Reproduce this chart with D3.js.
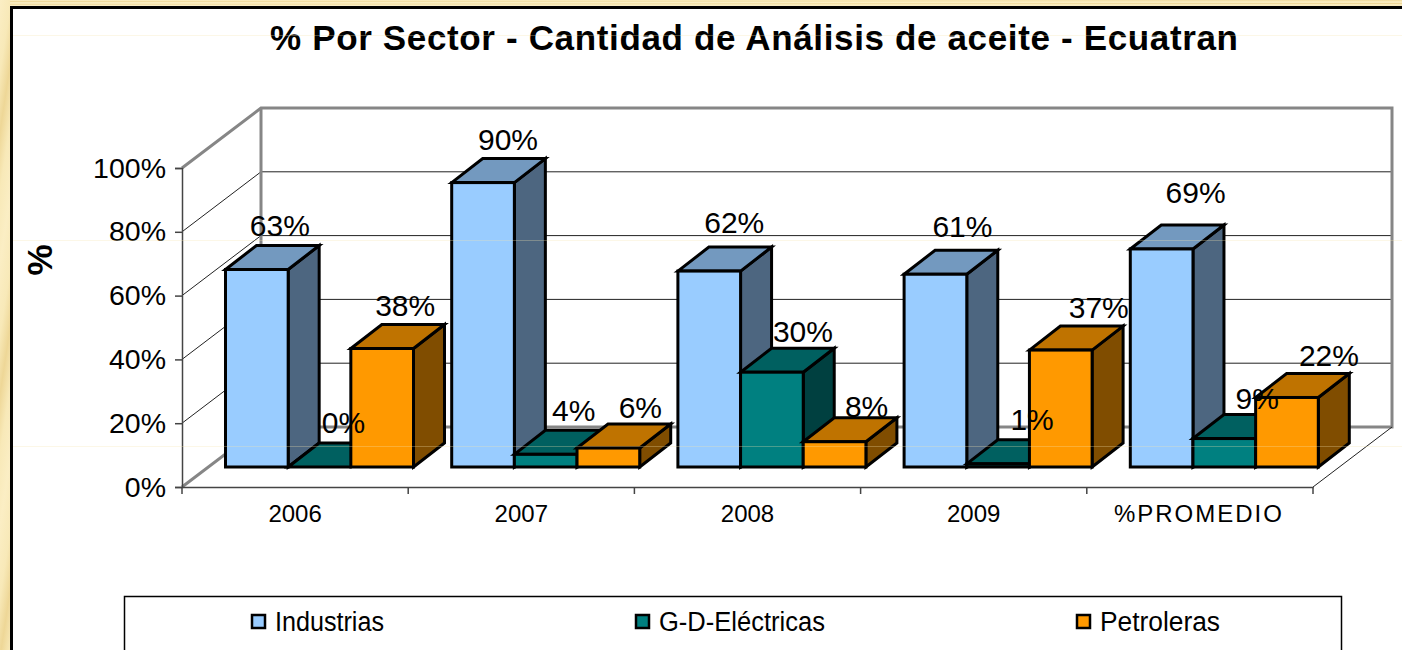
<!DOCTYPE html>
<html>
<head>
<meta charset="utf-8">
<script src="https://cdn.jsdelivr.net/npm/d3@7"></script>
<style>
    html, body { margin: 0; padding: 0; background: #fff; overflow: hidden; }
    text { font-family: 'Liberation Sans', Arial, sans-serif; fill: #000; }
</style>
</head>
<body>
<div class="chart"></div>
<script>
(function () {
    'use strict';

    const categories = ['2006', '2007', '2008', '2009', '%PROMEDIO'];
    const seriesNames = ['Industrias', 'G-D-Eléctricas', 'Petroleras'];
    const industrias = [62.5, 90, 62, 61, 69];
    const electricas = [0, 4, 30, 1, 9];
    const petroleras = [37.5, 6, 8, 37, 22];
    const yTicks = [0, 20, 40, 60, 80, 100];

    const seriesValues = [industrias, electricas, petroleras];
    const faceColors = [
        { front: '#99ccff', top: '#7399bf', side: '#4d6680' },
        { front: '#008080', top: '#006060', side: '#004040' },
        { front: '#ff9900', top: '#bf7300', side: '#804d00' }
    ];

    // where the original placed each data label relative to its bar, per series
    const labelDx = [[23, 25, 25, 27, 34], [24, 28, 31, 34, 33], [23, 32, 32, 38, 42]];
    const labelDy = [[-1, 0, -5, -4, -13], [-1, 0, 3, -1, 3], [0, 3, 8, 1, 2]];

    const width = 1402, height = 650;
    const floor = { left: 182, right: 1313, y: 487, top: 168 };
    const wall = { dx: 79, dy: -60 };
    const barDepth = { near: 26.5, rise: 20, dx: 31, dy: -24 };

    const x0 = d3.scaleBand().domain(categories).range([floor.left, floor.right]);
    const x1 = d3.scaleBand().domain(d3.range(seriesNames.length)).range([17, 205]);
    const y = d3.scaleLinear().domain([0, 100]).range([floor.y, floor.top]);
    const barHeight = d3.scaleLinear().domain([0, 100]).range([0, 316]);

    const svg = d3.select('.chart').append('svg')
        .attr('width', width).attr('height', height)
        .style('display', 'block');

    // slide background and frame
    const defs = svg.append('defs');
    const grad = defs.append('linearGradient').attr('id', 'paper')
        .attr('x1', 0).attr('x2', 0.02).attr('y1', 0).attr('y2', 0.2)
        .attr('spreadMethod', 'reflect');
    grad.append('stop').attr('offset', '0%').attr('stop-color', '#fbeec4');
    grad.append('stop').attr('offset', '55%').attr('stop-color', '#f8e9b8');
    grad.append('stop').attr('offset', '100%').attr('stop-color', '#eed797');
    svg.append('rect').attr('width', width).attr('height', 7).attr('fill', 'url(#paper)');
    svg.append('rect').attr('width', 10).attr('height', height).attr('fill', 'url(#paper)');
    svg.append('path').attr('d', 'M11.5,' + height + 'V7.5H' + width)
        .attr('fill', 'none').attr('stroke', '#000').attr('stroke-width', 3);

    svg.append('text').attr('x', 754).attr('y', 50)
        .attr('text-anchor', 'middle')
        .attr('font-size', 35).attr('font-weight', 'bold')
        .attr('textLength', 968).attr('lengthAdjust', 'spacing')
        .text('% Por Sector - Cantidad de Análisis de aceite - Ecuatran');

    svg.append('text')
        .attr('transform', 'translate(52, 260) rotate(-90)')
        .attr('text-anchor', 'middle')
        .attr('font-size', 35).attr('font-weight', 'bold')
        .text('%');

    // walls
    const grey = '#868686';
    const backX0 = floor.left + wall.dx, backX1 = floor.right + wall.dx;

    const grid = svg.append('g').attr('fill', 'none');
    grid.selectAll('.grid').data(yTicks.slice(1, -1)).enter().append('path')
        .attr('class', 'grid')
        .attr('d', function (d) {
            const yy = y(d);
            return 'M' + floor.left + ',' + yy + 'L' + backX0 + ',' + (yy + wall.dy) + 'H' + backX1;
        })
        .attr('stroke', '#222').attr('stroke-width', 1);

    grid.append('path')
        .attr('d', 'M' + floor.left + ',' + floor.top + 'L' + backX0 + ',' + (floor.top + wall.dy) +
            'H' + backX1 + 'V' + (floor.y + wall.dy) + 'H' + backX0 + 'L' + floor.left + ',' + floor.y)
        .attr('stroke', grey).attr('stroke-width', 3);
    grid.append('path')
        .attr('d', 'M' + backX0 + ',' + (floor.top + wall.dy) + 'V' + (floor.y + wall.dy))
        .attr('stroke', grey).attr('stroke-width', 3);
    grid.append('path')
        .attr('d', 'M' + backX1 + ',' + (floor.y + wall.dy) + 'L' + floor.right + ',' + floor.y)
        .attr('stroke', '#222').attr('stroke-width', 1);

    // bars, left to right so the nearer faces overlap
    const bars = svg.append('g').attr('stroke', '#000').attr('stroke-width', 3)
        .attr('stroke-linejoin', 'miter');
    const baseY = floor.y - barDepth.rise;

    categories.forEach(function (cat, c) {
        seriesValues.forEach(function (vals, s) {
            const left = x0(cat) + barDepth.near + x1(s);
            const right = left + x1.bandwidth();
            const topY = baseY - barHeight(vals[c]);
            const colors = faceColors[s];
            const g = bars.append('g');

            g.append('path')
                .attr('d', 'M' + right + ',' + baseY + 'L' + (right + barDepth.dx) + ',' + (baseY + barDepth.dy) +
                    'V' + (topY + barDepth.dy) + 'L' + right + ',' + topY + 'Z')
                .attr('fill', colors.side);
            g.append('path')
                .attr('d', 'M' + left + ',' + topY + 'L' + (left + barDepth.dx) + ',' + (topY + barDepth.dy) +
                    'H' + (right + barDepth.dx) + 'L' + right + ',' + topY + 'Z')
                .attr('fill', colors.top);
            g.append('rect')
                .attr('x', left).attr('y', topY)
                .attr('width', right - left).attr('height', baseY - topY)
                .attr('fill', colors.front);
        });
    });

    // axes over the walls
    const axisColor = '#444';
    const yAxis = svg.append('g').attr('transform', 'translate(' + floor.left + ', 0)')
        .call(d3.axisLeft(y).tickValues(yTicks).tickSize(7).tickPadding(9)
            .tickFormat(function (d) { return d + '%'; }));
    const xAxis = svg.append('g').attr('transform', 'translate(0, ' + floor.y + ')')
        .call(d3.axisBottom(x0).tickSize(0).tickPadding(18));
    xAxis.selectAll('.boundary').data(d3.range(categories.length + 1)).enter().append('line')
        .attr('class', 'boundary')
        .attr('x1', function (d) { return floor.left + d * x0.step(); })
        .attr('x2', function (d) { return floor.left + d * x0.step(); })
        .attr('y1', 0).attr('y2', 7)
        .attr('stroke', axisColor).attr('stroke-width', 1.5);
    [yAxis, xAxis].forEach(function (axis) {
        axis.select('.domain').attr('stroke', axisColor).attr('stroke-width', 1.5);
        axis.selectAll('.tick line').attr('stroke', axisColor).attr('stroke-width', 1.5);
    });
    yAxis.selectAll('text').attr('font-size', 28.5).attr('font-family', null);
    xAxis.selectAll('text').attr('font-size', 24).attr('font-family', null);
    xAxis.selectAll('.tick text').filter(function (d) { return d === '%PROMEDIO'; })
        .attr('textLength', 168).attr('lengthAdjust', 'spacing').attr('dx', -2);

    // value labels
    const labels = svg.append('g').attr('text-anchor', 'middle').attr('font-size', 30);
    categories.forEach(function (cat, c) {
        seriesValues.forEach(function (vals, s) {
            const mid = x0(cat) + barDepth.near + x1(s) + x1.bandwidth() / 2;
            labels.append('text')
                .attr('x', mid + labelDx[s][c])
                .attr('y', baseY - barHeight(vals[c]) - 33 + labelDy[s][c])
                .text(Math.round(vals[c]) + '%');
        });
    });

    // faint streaks of the slide background run over the whole chart
    svg.selectAll('.faint').data([35, 240, 446]).enter().append('line')
        .attr('class', 'faint')
        .attr('x1', 13).attr('x2', width)
        .attr('y1', function (d) { return d + 0.5; })
        .attr('y2', function (d) { return d + 0.5; })
        .attr('stroke', '#f5e6b0').attr('stroke-opacity', 0.3).attr('stroke-width', 1);

    // legend
    const legendBox = { x: 124, y: 596, w: 1217 };
    svg.append('path')
        .attr('d', 'M' + (legendBox.x + 0.5) + ',' + height + 'V' + (legendBox.y + 0.5) + 'H' +
            (legendBox.x + legendBox.w + 0.5) + 'V' + height)
        .attr('fill', 'none').attr('stroke', '#000').attr('stroke-width', 1.5);

    const legendX = d3.scaleOrdinal().domain(seriesNames).range([252, 636, 1077]);
    const legendTextWidth = d3.scaleOrdinal().domain(seriesNames).range([109, 166, 120]);
    const legend = svg.append('g').selectAll('g').data(seriesNames).enter().append('g')
        .attr('transform', function (d) { return 'translate(' + legendX(d) + ', 615)'; });
    legend.append('rect')
        .attr('width', 13).attr('height', 13)
        .attr('fill', function (d, i) { return faceColors[i].front; })
        .attr('stroke', '#000').attr('stroke-width', 2.5);
    legend.append('text')
        .attr('x', 23).attr('y', 16)
        .attr('font-size', 27)
        .attr('textLength', function (d) { return legendTextWidth(d); })
        .attr('lengthAdjust', 'spacingAndGlyphs')
        .text(function (d) { return d; });
}());
</script>
</body>
</html>
